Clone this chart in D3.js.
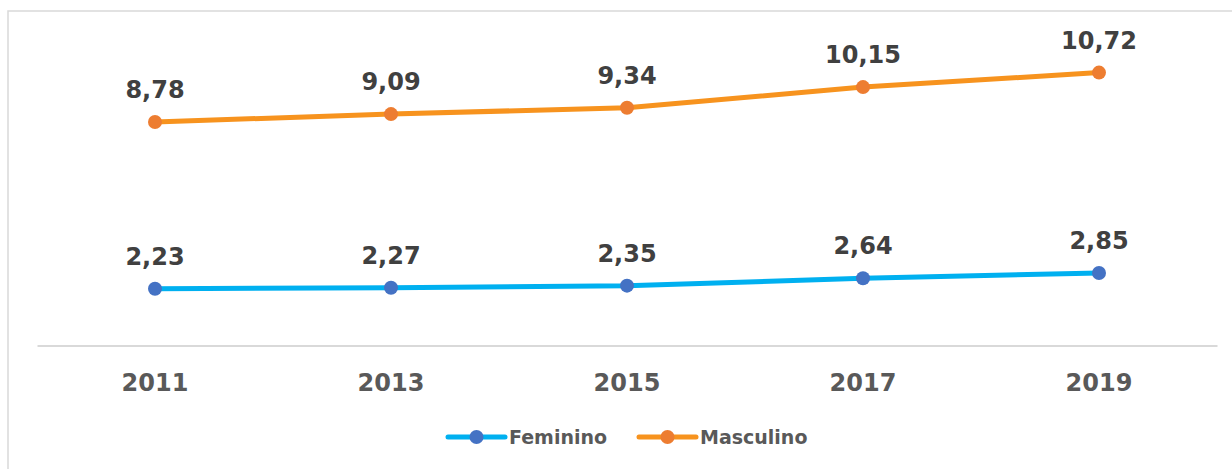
<!DOCTYPE html>
<html><head><meta charset="utf-8">
<script src="https://cdn.jsdelivr.net/npm/d3@7"></script>
<style>body{margin:0;background:#fff}svg{display:block}</style>
</head><body>
<svg id="c" width="1232" height="469"></svg>
<script>
const years = ["2011","2013","2015","2017","2019"];
const feminino = [2.23, 2.27, 2.35, 2.64, 2.85];
const masculino = [8.78, 9.09, 9.34, 10.15, 10.72];
const seriesNames = ["Feminino","Masculino"];

const svg = d3.select("#c");
const W = 1232, H = 469;
// chart border
svg.append("rect").attr("x",8).attr("y",11).attr("width",W+10).attr("height",H+10)
  .attr("fill","#fff").attr("stroke","#d9d9d9").attr("stroke-width",1.5);

const x = d3.scaleBand().domain(years).range([37,1217]);
const y = d3.scaleLinear().domain([0,12]).range([345.5,40]);

// axis
const ax = svg.append("g").attr("transform","translate(0,345.5)")
  .call(d3.axisBottom(x).tickSize(0).tickPadding(28));
ax.select(".domain").attr("stroke","#d9d9d9").attr("stroke-width",2);
ax.selectAll("text").attr("font-family","'DejaVu Sans', Verdana, sans-serif")
  .attr("font-weight","bold").attr("font-size",24).attr("fill","#595959");

const fmt = v => d3.format(".2f")(v).replace(".", ",");
const series = [
  {name:seriesNames[0], values:feminino, line:"#00B0F0", dot:"#4472C4"},
  {name:seriesNames[1], values:masculino, line:"#F7931E", dot:"#ED7D31"}
];
const line = d3.line().x((d,i)=>x(years[i])+x.bandwidth()/2).y(d=>y(d));
series.forEach(s=>{
  svg.append("path").datum(s.values).attr("d",line).attr("fill","none")
    .attr("stroke",s.line).attr("stroke-width",5).attr("stroke-linejoin","round");
  svg.selectAll(null).data(s.values).enter().append("circle")
    .attr("cx",(d,i)=>x(years[i])+x.bandwidth()/2).attr("cy",d=>y(d)).attr("r",7)
    .attr("fill",s.dot);
  svg.selectAll(null).data(s.values).enter().append("text")
    .attr("x",(d,i)=>x(years[i])+x.bandwidth()/2).attr("y",d=>y(d)-24)
    .attr("text-anchor","middle").attr("font-family","'DejaVu Sans', Verdana, sans-serif")
    .attr("font-weight","bold").attr("font-size",24).attr("fill","#404040")
    .text(fmt);
});

// legend
const leg = [{s:series[0], x0:448},{s:series[1], x0:639}];
leg.forEach(l=>{
  const g = svg.append("g").attr("transform",`translate(${l.x0},437)`);
  g.append("line").attr("x1",0).attr("x2",57).attr("stroke",l.s.line).attr("stroke-width",5).attr("stroke-linecap","round");
  g.append("circle").attr("cx",28.5).attr("r",7).attr("fill",l.s.dot);
  g.append("text").attr("x",61).attr("y",7).attr("font-family","'DejaVu Sans', Verdana, sans-serif")
    .attr("font-weight","bold").attr("font-size",19).attr("fill","#595959").text(l.s.name);
});
</script>
</body></html>
